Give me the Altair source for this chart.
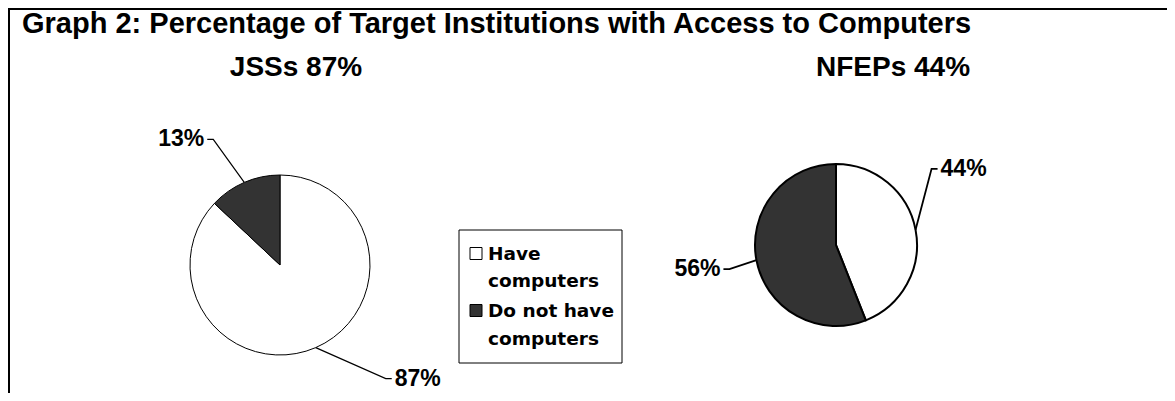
import math
import altair as alt
import pandas as pd

# ---------------- data ----------------
TITLE = "Graph 2: Percentage of Target Institutions with Access to Computers"
SCHOOLS = ["JSSs", "NFEPs"]
CATEGORIES = ["Have computers", "Do not have computers"]
HAVE = [87, 44]
HAVE_NOT = [13, 56]
LEGEND_LABELS = ["Have\ncomputers", "Do not have\ncomputers"]
COLORS = ["white", "#333333"]

# ---------------- layout (chart pixels) ----------------
W, H = 1159, 385
PIE = {"JSSs": dict(cx=272, cy=257, r=90, sw=1.0, lw=1.2),
       "NFEPs": dict(cx=828, cy=237, r=81, sw=2.0, lw=1.8)}
SUB_X = {"JSSs": 288, "NFEPs": 885}
SUB_Y = 68
# elbow offset from slice edge (dx, dy) and label side (-1 left, +1 right)
LEADER = {("JSSs", "Do not have computers"): (-31, -43, -1),
          ("JSSs", "Have computers"): (70, 31, 1),
          ("NFEPs", "Have computers"): (16, -61, 1),
          ("NFEPs", "Do not have computers"): (-27, 9, -1)}
TICK, GAP = 6, 3
LEG_BOX = (451, 614, 222, 355)
LEG_SYM_X, LEG_TXT_X = 468, 480
LEG_SYM_Y = [245.5, 302.5]
LEG_TXT_Y = [251.5, 309.3]
FONT = "Liberation Sans"

# ---------------- tables ----------------
rows, line_pts, labels = [], [], []
for i, s in enumerate(SCHOOLS):
    vals = [HAVE[i], HAVE_NOT[i]]
    p = PIE[s]
    start = 0.0
    for j, (c, v) in enumerate(zip(CATEGORIES, vals)):
        rows.append(dict(school=s, category=c, value=v, ord=j))
        a = 2 * math.pi * (start + v / 2) / sum(vals)
        ex = p["cx"] + p["r"] * math.sin(a)
        ey = p["cy"] - p["r"] * math.cos(a)
        dx, dy, side = LEADER[(s, c)]
        bx, by = ex + dx, ey + dy
        tx = bx + side * TICK
        lid = f"{s}-{c}"
        for k, (px, py) in enumerate([(ex, ey), (bx, by), (tx, by)]):
            line_pts.append(dict(lid=lid, school=s, step=k, px=px, py=py))
        labels.append(dict(school=s, text=f"{v}%", lx=tx + side * GAP, ly=by, side=side))
        start += v

df = pd.DataFrame(rows)
lines_df = pd.DataFrame(line_pts)
labels_df = pd.DataFrame(labels)
subs_df = pd.DataFrame({"school": SCHOOLS,
                        "sub": [f"{s} {h}%" for s, h in zip(SCHOOLS, HAVE)],
                        "sx": [SUB_X[s] for s in SCHOOLS]})
leg_df = pd.DataFrame({"category": CATEGORIES, "label": LEGEND_LABELS,
                       "sy": LEG_SYM_Y, "ty": LEG_TXT_Y})

color = alt.Color("category:N", scale=alt.Scale(domain=CATEGORIES, range=COLORS), legend=None)

layers = []

# frame
layers.append(alt.Chart().mark_rule(color="black", strokeWidth=2).encode(
    x=alt.value(0), x2=alt.value(W), y=alt.value(1)))
layers.append(alt.Chart().mark_rule(color="black", strokeWidth=2).encode(
    x=alt.value(1), y=alt.value(0), y2=alt.value(H)))

# title
layers.append(alt.Chart().mark_text(text=TITLE, align="left", baseline="alphabetic",
                                    font=FONT, fontWeight="bold", fontSize=29,
                                    color="black").encode(x=alt.value(14), y=alt.value(25)))
# subtitles
layers.append(alt.Chart(subs_df).mark_text(align="center", baseline="alphabetic",
                                           font=FONT, fontWeight="bold", fontSize=28,
                                           color="black").encode(
    x=alt.X("sx:Q", scale=None, axis=None), y=alt.value(SUB_Y), text="sub:N"))

# pies
for s in SCHOOLS:
    p = PIE[s]
    layers.append(alt.Chart(df).transform_filter(alt.datum.school == s).mark_arc(
        radius=p["r"], stroke="black", strokeWidth=p["sw"]).encode(
        theta=alt.Theta("value:Q", stack=True),
        color=color,
        order=alt.Order("ord:Q"),
        x=alt.value(p["cx"]), y=alt.value(p["cy"])))
    # leader lines
    layers.append(alt.Chart(lines_df).transform_filter(alt.datum.school == s).mark_line(
        color="black", strokeWidth=p["lw"]).encode(
        x=alt.X("px:Q", scale=None, axis=None),
        y=alt.Y("py:Q", scale=None, axis=None),
        detail="lid:N", order="step:Q"))

# labels
for side, align in [(-1, "right"), (1, "left")]:
    layers.append(alt.Chart(labels_df).transform_filter(alt.datum.side == side).mark_text(
        align=align, baseline="middle", font=FONT, fontWeight="bold", fontSize=23,
        color="black").encode(
        x=alt.X("lx:Q", scale=None, axis=None),
        y=alt.Y("ly:Q", scale=None, axis=None), text="text:N"))

# legend
x0, x1, y0, y1 = LEG_BOX
layers.append(alt.Chart().mark_rect(fill="white", stroke="black", strokeWidth=1).encode(
    x=alt.value(x0), x2=alt.value(x1), y=alt.value(y0), y2=alt.value(y1)))
layers.append(alt.Chart(leg_df).mark_square(size=144, stroke="black", strokeWidth=1,
                                            opacity=1, fillOpacity=1).encode(
    x=alt.value(LEG_SYM_X), y=alt.Y("sy:Q", scale=None, axis=None), fill=color))
layers.append(alt.Chart(leg_df).mark_text(align="left", baseline="alphabetic", lineBreak="\n",
                                          lineHeight=27.5, font="DejaVu Sans",
                                          fontWeight="bold", fontSize=18.5,
                                          color="black").encode(
    x=alt.value(LEG_TXT_X), y=alt.Y("ty:Q", scale=None, axis=None), text="label:N"))

chart = alt.layer(*layers).properties(
    width=W, height=H, padding=0,
    autosize=alt.AutoSizeParams(type="none"),
    background="white",
).configure_view(stroke=None)

chart.save("out.html", embed_options={"renderer": "svg", "actions": False})
